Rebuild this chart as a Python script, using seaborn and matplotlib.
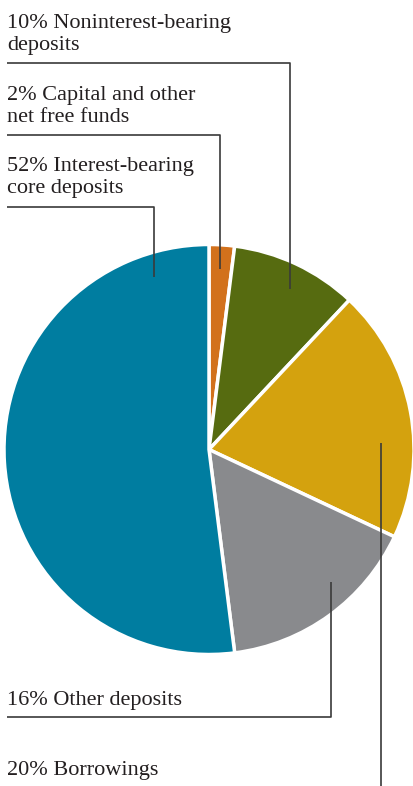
import matplotlib
matplotlib.use("Agg")
import matplotlib.pyplot as plt
import seaborn as sns

# Funding mix (percent of total), clockwise from 12 o'clock
categories = ["Capital and other\nnet free funds", "Noninterest-bearing\ndeposits",
              "Borrowings", "Other deposits", "Interest-bearing\ncore deposits"]
shares = [2, 10, 20, 16, 52]
colors = ["#D2711C", "#566B10", "#D4A20E", "#898A8D", "#007DA0"]

sns.set_theme(style="white")
plt.rcParams["font.family"] = ["Liberation Serif", "DejaVu Serif"]

W, H = 413, 786
fig = plt.figure(figsize=(W / 100, H / 100), dpi=100)
ax = fig.add_axes([0, 0, 1, 1])

cx, cy, r = 209, H - 449.5, 205
ax.pie(shares, colors=colors, startangle=90, counterclock=False,
       center=(cx, cy), radius=r, frame=True,
       wedgeprops=dict(edgecolor="white", linewidth=2.5))
ax.set_xlim(0, W)
ax.set_ylim(0, H)
ax.set_aspect("equal")
ax.axis("off")

def Y(p):
    return H - p

txt = dict(fontsize=16, color="#231F20", va="baseline", ha="left", linespacing=1.2)
lc = dict(color="#3A3A3A", linewidth=1.2, solid_capstyle="butt")

# top labels with elbow leader lines
ax.text(7, Y(50), f"{shares[1]}% {categories[1]}", **txt)
ax.plot([7, 290, 290], [Y(63), Y(63), Y(289)], **lc)

ax.text(7, Y(122), f"{shares[0]}% {categories[0]}", **txt)
ax.plot([7, 220, 220], [Y(135), Y(135), Y(269)], **lc)

ax.text(7, Y(193), f"{shares[4]}% {categories[4]}", **txt)
ax.plot([7, 154, 154], [Y(207), Y(207), Y(277)], **lc)

# bottom labels
ax.text(7, Y(705), f"{shares[3]}% {categories[3]}", **txt)
ax.plot([7, 330.5, 330.5], [Y(717), Y(717), Y(582)], **lc)

ax.text(7, Y(775), f"{shares[2]}% {categories[2]}", **txt)
ax.plot([381, 381], [Y(443), Y(786)], **lc)

fig.savefig("out.png", dpi=100)
